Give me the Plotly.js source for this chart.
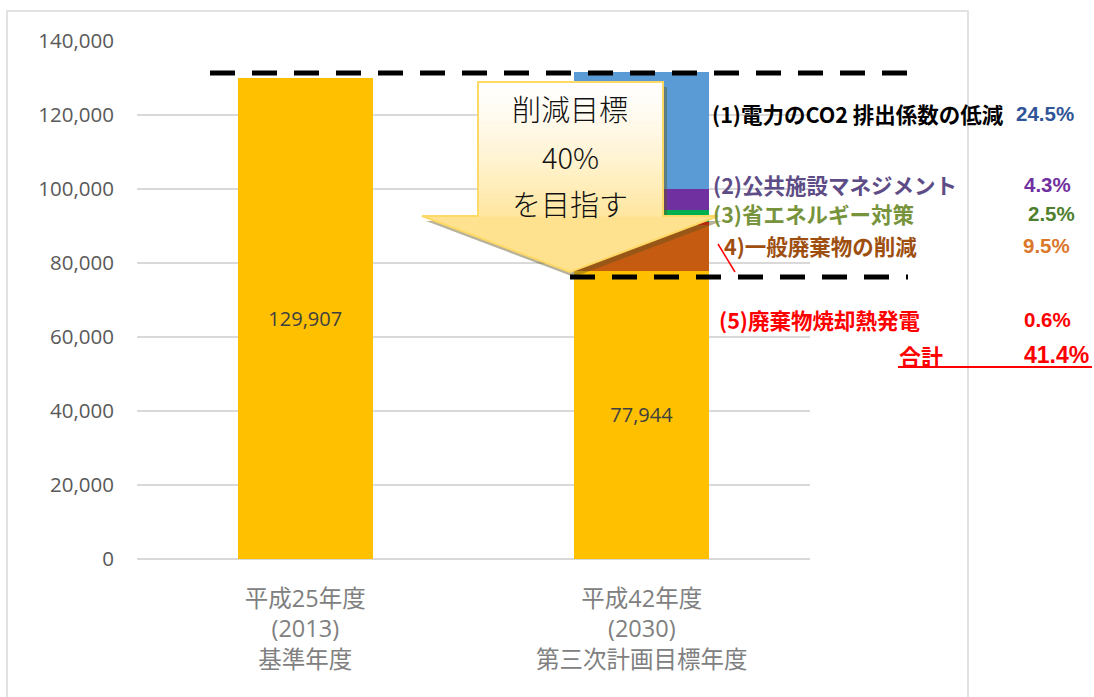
<!DOCTYPE html>
<html>
<head>
<meta charset="utf-8">
<script src="https://cdn.plot.ly/plotly-3.0.1.min.js"></script>
<style>
  html, body { margin: 0; padding: 0; background: #ffffff; }
  #chart { width: 1094px; height: 697px; }
</style>
</head>
<body>
<div id="chart"></div>
<script>
// ---------------- DATA ----------------
const categories = ['平成25年度<br>(2013)<br>基準年度', '平成42年度<br>(2030)<br>第三次計画目標年度'];
const baseValues = [129907, 77944];                  // yellow bars (t-CO2)
// reduction measures (stacked on the 2030 bar)
const measureNames = ['(1)電力のCO2 排出係数の低減', '(2)公共施設マネジメント', '(3)省エネルギー対策', '4)一般廃棄物の削減', '(5)廃棄物焼却熱発電'];
const measureShares = [24.5, 4.3, 2.5, 9.5, 0.6];    // % of base year
const measureValues2030 = [31827, 5586, 3248, 12341, 779];
const totalLabel = '合計';
const totalShare = 41.4;
const calloutLines = ['削減目標', '40%', 'を目指す'];

// ---------------- STYLE ----------------
const PLOT = { l: 137, r: 810, t: 41, b: 559 };
const X = px => (px - PLOT.l) / (PLOT.r - PLOT.l);
const Y = py => (PLOT.b - py) / (PLOT.b - PLOT.t);

const barColors = ['#5B9BD5', '#7030A0', '#00B050', '#C55A11', '#FF0000'];
const labelColors = ['#000000', '#5E4C86', '#77933C', '#9E4F10', '#FF0000'];
const pctColors = ['#2F5597', '#7030A0', '#4E7F2E', '#DB772B', '#FF0000'];
const labelPos = [[710, 113], [711, 184], [711, 213], [722, 245], [717, 319]];
const pctRight = [1076, 1073, 1077, 1072, 1073];
const stackOrder = [3, 4, 2, 1, 0];   // bottom to top above the base bar

const cjk = 'Noto Sans CJK JP, sans-serif';
const narrow = 'Liberation Sans Narrow, Arial Narrow, Liberation Sans, sans-serif';
const latin = 'Open Sans, Noto Sans CJK JP, sans-serif';

// ---------------- TRACES ----------------
const xIdx = categories.map((_, i) => i);
const traces = [{
  type: 'bar', x: xIdx, y: baseValues, width: 0.401,
  marker: { color: '#FFC000', line: { width: 0 } },
  text: baseValues.map(v => v.toLocaleString('en-US')),
  textposition: 'inside', insidetextanchor: 'middle', textangle: 0,
  textfont: { family: latin, size: 20, color: '#404040' },
  hoverinfo: 'skip', showlegend: false
}];
stackOrder.forEach(i => {
  traces.push({
    type: 'bar', x: xIdx, y: [null, measureValues2030[i]], width: 0.401,
    marker: { color: barColors[i], line: { width: 0 } },
    hoverinfo: 'skip', showlegend: false
  });
});

// ---------------- SHAPES ----------------
const shapes = [];
// chart frame
shapes.push({ type: 'rect', xref: 'paper', yref: 'paper', x0: X(7), x1: X(968), y0: Y(705), y1: Y(11),
  line: { color: '#D9D9D9', width: 1.5 }, fillcolor: 'rgba(0,0,0,0)', layer: 'below' });

// callout arrow geometry (pixels)
const C = { L: 478, R: 663, T: 82, W: 216, WL: 422, WR: 718, TX: 570, TY: 272 };
function arrowPath(dx, dy) {
  const p = [[C.L, C.T], [C.R, C.T], [C.R, C.W], [C.WR, C.W], [C.TX, C.TY], [C.WL, C.W], [C.L, C.W]];
  return 'M ' + p.map(q => X(q[0] + dx) + ',' + Y(q[1] + dy)).join(' L ') + ' Z';
}
shapes.push({ type: 'path', xref: 'paper', yref: 'paper', path: arrowPath(4, 5),
  fillcolor: 'rgba(100,85,30,0.45)', line: { width: 0 }, layer: 'above' });
shapes.push({ type: 'path', xref: 'paper', yref: 'paper', path: arrowPath(0, 0),
  fillcolor: '#FFE290', line: { width: 0 }, layer: 'above' });
// vertical gradient inside the body
const N = 30;
function mix(a, b, t) { return Math.round(a + (b - a) * t); }
for (let k = 0; k < N; k++) {
  const y0 = C.T + (C.W - C.T) * k / N, y1 = C.T + (C.W - C.T) * (k + 1) / N;
  const t = Math.pow((k + 0.5) / N, 1.3);
  const col = `rgb(255,${mix(255, 230, t)},${mix(255, 160, t)})`;
  shapes.push({ type: 'rect', xref: 'paper', yref: 'paper', x0: X(C.L), x1: X(C.R), y0: Y(y1 + 0.5), y1: Y(y0),
    fillcolor: col, line: { width: 0 }, layer: 'above' });
}
shapes.push({ type: 'path', xref: 'paper', yref: 'paper', path: arrowPath(0, 0),
  fillcolor: 'rgba(0,0,0,0)', line: { color: '#FFD966', width: 2 }, layer: 'above' });

// dashed target lines
shapes.push({ type: 'line', xref: 'paper', yref: 'paper', x0: X(210), x1: X(908), y0: Y(73), y1: Y(73),
  line: { color: '#000000', width: 5, dash: '25px,17px' }, layer: 'above' });
shapes.push({ type: 'line', xref: 'paper', yref: 'paper', x0: X(570), x1: X(908), y0: Y(277), y1: Y(277),
  line: { color: '#000000', width: 5, dash: '25px,17px' }, layer: 'above' });
// small red stroke
shapes.push({ type: 'line', xref: 'paper', yref: 'paper', x0: X(718), x1: X(735), y0: Y(244), y1: Y(272),
  line: { color: '#FF0000', width: 1.5 }, layer: 'above' });
// total underline
shapes.push({ type: 'line', xref: 'paper', yref: 'paper', x0: X(898), x1: X(1092), y0: Y(367), y1: Y(367),
  line: { color: '#FF0000', width: 2 }, layer: 'above' });

// ---------------- ANNOTATIONS ----------------
const annotations = [];
measureNames.forEach((name, i) => {
  annotations.push({ xref: 'paper', yref: 'paper', x: X(labelPos[i][0]), y: Y(labelPos[i][1]),
    xanchor: 'left', yanchor: 'middle', showarrow: false, text: name,
    font: { family: cjk, size: 21.5, color: labelColors[i], weight: 'bold' } });
  annotations.push({ xref: 'paper', yref: 'paper', x: X(pctRight[i]), y: Y(labelPos[i][1]),
    xanchor: 'right', yanchor: 'middle', showarrow: false, text: measureShares[i].toFixed(1) + '%',
    font: { family: narrow, size: 20.5, color: pctColors[i], weight: 'bold' } });
});
annotations.push({ xref: 'paper', yref: 'paper', x: X(897), y: Y(355),
  xanchor: 'left', yanchor: 'middle', showarrow: false, text: totalLabel,
  font: { family: cjk, size: 22, color: '#FF0000', weight: 'bold' } });
annotations.push({ xref: 'paper', yref: 'paper', x: X(1091), y: Y(355),
  xanchor: 'right', yanchor: 'middle', showarrow: false, text: totalShare.toFixed(1) + '%',
  font: { family: narrow, size: 23, color: '#FF0000', weight: 'bold' } });
const calloutY = [108, 156, 203];
calloutLines.forEach((t, i) => {
  annotations.push({ xref: 'paper', yref: 'paper', x: X(570), y: Y(calloutY[i]),
    xanchor: 'center', yanchor: 'middle', showarrow: false, text: t,
    font: { family: cjk, size: 29, color: '#111111', weight: 300 } });
});

// ---------------- LAYOUT ----------------
const layout = {
  width: 1094, height: 697,
  margin: { l: PLOT.l, r: 1094 - PLOT.r, t: PLOT.t, b: 697 - PLOT.b, pad: 0 },
  paper_bgcolor: '#ffffff', plot_bgcolor: '#ffffff',
  barmode: 'stack', showlegend: false,
  xaxis: {
    type: 'linear', range: [-0.5, 1.5], tickvals: xIdx, ticktext: categories,
    showgrid: false, zeroline: false, showline: false, ticks: '',
    ticklabelstandoff: 23,
    tickfont: { family: latin, size: 23.5, color: '#808080' }, fixedrange: true
  },
  yaxis: {
    range: [0, 140000], dtick: 20000, tickformat: ',', ticks: '',
    showgrid: true, gridcolor: '#D9D9D9', gridwidth: 1.5,
    zeroline: true, zerolinecolor: '#D9D9D9', zerolinewidth: 1.5,
    showline: false, ticklabelstandoff: 22,
    tickfont: { family: latin, size: 20.5, color: '#595959' }, fixedrange: true
  },
  shapes: shapes,
  annotations: annotations
};

Plotly.newPlot('chart', traces, layout, { displayModeBar: false, staticPlot: true });
</script>
</body>
</html>
